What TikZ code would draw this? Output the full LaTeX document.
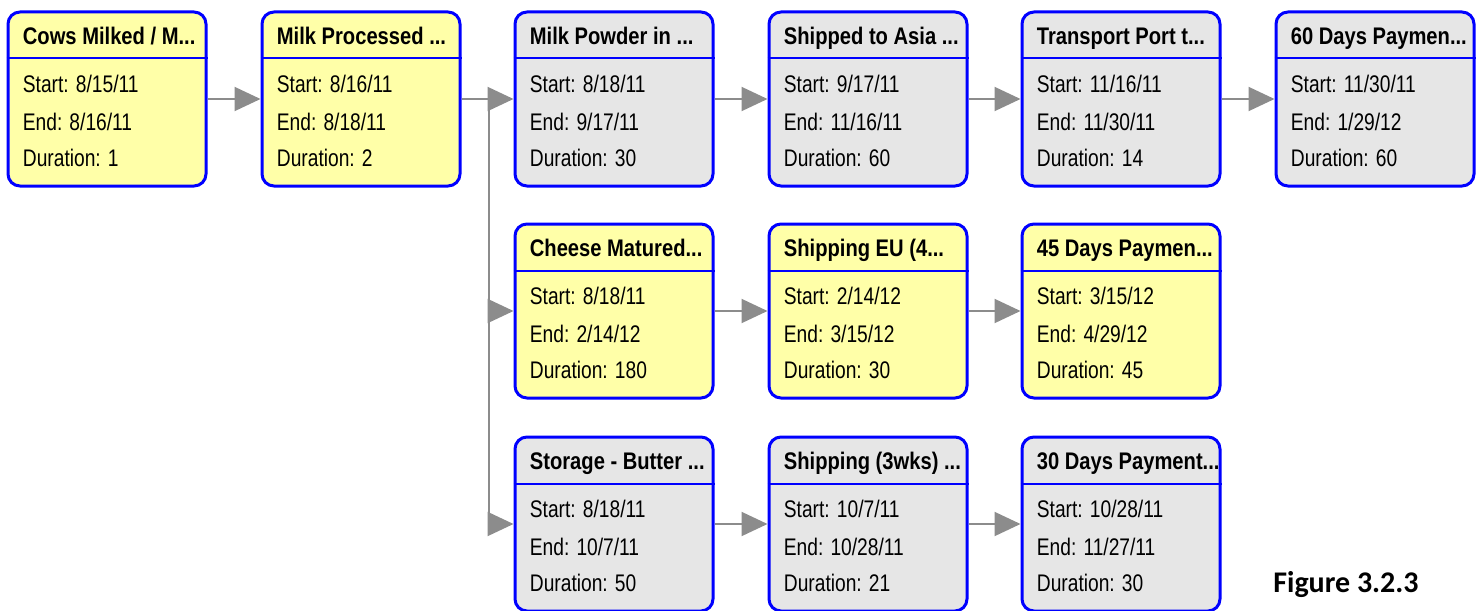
\documentclass[tikz,border=0pt]{standalone}
\usepackage{fontspec}
\setmainfont{Liberation Sans}[FakeStretch=0.8]
\newfontfamily\titlefont{Liberation Sans}[FakeStretch=0.84]
\newfontfamily\capfont{Carlito}
\usetikzlibrary{arrows.meta,calc}

\definecolor{taskyellow}{HTML}{FFFFA8}
\definecolor{taskgrey}{HTML}{E6E6E6}
\definecolor{flowgrey}{HTML}{8C8C8C}

\tikzset{
  taskbody/.style={draw=blue, line width=1.5pt, rounded corners=6pt,
    minimum width=99pt, minimum height=87pt, inner sep=0pt},
  tasktitle/.style={anchor=base west, inner sep=0pt, font=\titlefont\bfseries\fontsize{12}{14}\selectfont},
  taskline/.style={anchor=base west, inner sep=0pt, font=\fontsize{12}{14}\selectfont},
  flow/.style={draw=flowgrey, line width=1pt,
    -{Triangle[length=13pt, width=12pt, fill=flowgrey]}},
  plain/.style={draw=flowgrey, line width=1pt}
}

% one task box: name, left, top, fill, title, start, end, duration
\newcommand{\taskbox}[8]{
  \node[taskbody, fill=#4] (#1) at (#2+99, #3+87) {};
  \draw[blue, line width=1pt] ([yshift=-24pt]#1.north west) -- ([yshift=-24pt]#1.north east);
  \node[tasktitle] (#1-t) at ([xshift=8pt, yshift=-17pt]#1.north west) {#5};
  \node[taskline] (#1-s) at ([xshift=8pt, yshift=-41pt]#1.north west) {Start: #6};
  \node[taskline] (#1-e) at ([xshift=8pt, yshift=-60pt]#1.north west) {End: #7};
  \node[taskline] (#1-d) at ([xshift=8pt, yshift=-78pt]#1.north west) {Duration: #8};
}

\begin{document}
\begin{tikzpicture}[x=0.5pt, y=-0.5pt]
  \useasboundingbox (0,0) rectangle (1482,610);

  % top row
  \taskbox{cows}{8}{12}{taskyellow}{Cows Milked / M...}{8/15/11}{8/16/11}{1}
  \taskbox{milk}{262}{12}{taskyellow}{Milk Processed ...}{8/16/11}{8/18/11}{2}
  \taskbox{powder}{515}{12}{taskgrey}{Milk Powder in ...}{8/18/11}{9/17/11}{30}
  \taskbox{asia}{769}{12}{taskgrey}{Shipped to Asia ...}{9/17/11}{11/16/11}{60}
  \taskbox{port}{1022}{12}{taskgrey}{Transport Port t...}{11/16/11}{11/30/11}{14}
  \taskbox{pay60}{1276}{12}{taskgrey}{60 Days Paymen...}{11/30/11}{1/29/12}{60}

  % middle row
  \taskbox{cheese}{515}{224}{taskyellow}{Cheese Matured...}{8/18/11}{2/14/12}{180}
  \taskbox{eu}{769}{224}{taskyellow}{Shipping EU (4...}{2/14/12}{3/15/12}{30}
  \taskbox{pay45}{1022}{224}{taskyellow}{45 Days Paymen...}{3/15/12}{4/29/12}{45}

  % bottom row
  \taskbox{storage}{515}{437}{taskgrey}{Storage - Butter ...}{8/18/11}{10/7/11}{50}
  \taskbox{ship3}{769}{437}{taskgrey}{Shipping (3wks) ...}{10/7/11}{10/28/11}{21}
  \taskbox{pay30}{1022}{437}{taskgrey}{30 Days Payment...}{10/28/11}{11/27/11}{30}

  % links
  \coordinate (split) at ($(milk.east)+(13.5pt,0)$);
  \draw[flow] (cows.east) -- (milk.west);
  \draw[plain] (milk.east) -- (split);
  \draw[flow] (split) -- (powder.west);
  \draw[flow] (split) |- (cheese.west);
  \draw[flow] (split) |- (storage.west);
  \draw[flow] (powder.east) -- (asia.west);
  \draw[flow] (asia.east) -- (port.west);
  \draw[flow] (port.east) -- (pay60.west);
  \draw[flow] (cheese.east) -- (eu.west);
  \draw[flow] (eu.east) -- (pay45.west);
  \draw[flow] (storage.east) -- (ship3.west);
  \draw[flow] (ship3.east) -- (pay30.west);

  \node[font=\capfont\bfseries\fontsize{15}{18}\selectfont] (fig) at (1346,585) {Figure 3.2.3};
\end{tikzpicture}
\end{document}
